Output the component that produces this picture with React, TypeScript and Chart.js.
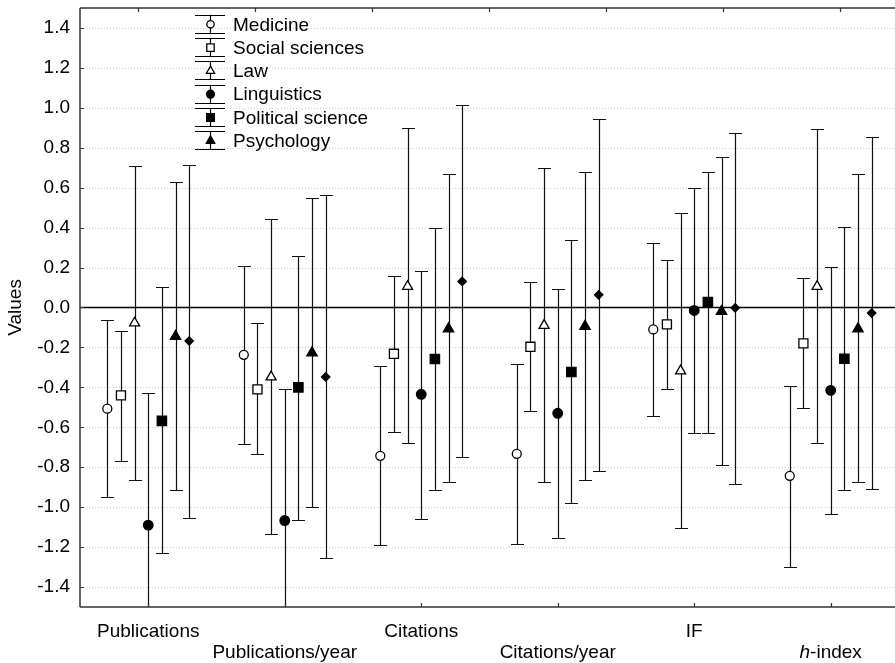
import React, { useEffect, useRef } from 'react';
import { Chart, registerables } from 'chart.js';

Chart.register(...registerables);

// ---------- data ----------
const categories = ['Publications', 'Publications/year', 'Citations', 'Citations/year', 'IF', 'h-index'];
const yTickValues = [-1.4, -1.2, -1.0, -0.8, -0.6, -0.4, -0.2, 0.0, 0.2, 0.4, 0.6, 0.8, 1.0, 1.2, 1.4];
const seriesNames = ['Medicine', 'Social sciences', 'Law', 'Linguistics', 'Political science', 'Psychology', 'Other'];

const medicineMean = [-0.507, -0.237, -0.743, -0.733, -0.11, -0.843];
const medicineLow = [-0.948, -0.685, -1.19, -1.183, -0.545, -1.298];
const medicineHigh = [-0.065, 0.207, -0.293, -0.283, 0.323, -0.393];

const socialMean = [-0.44, -0.41, -0.232, -0.197, -0.085, -0.18];
const socialLow = [-0.77, -0.735, -0.623, -0.518, -0.41, -0.502];
const socialHigh = [-0.118, -0.078, 0.157, 0.127, 0.237, 0.147];

const lawMean = [-0.078, -0.348, 0.105, -0.09, -0.318, 0.105];
const lawLow = [-0.862, -1.135, -0.678, -0.873, -1.105, -0.678];
const lawHigh = [0.71, 0.443, 0.897, 0.70, 0.475, 0.895];

const linguisticsMean = [-1.09, -1.067, -0.435, -0.53, -0.015, -0.415];
const linguisticsLow = [-1.75, -1.724, -1.057, -1.153, -0.63, -1.032];
const linguisticsHigh = [-0.43, -0.41, 0.185, 0.093, 0.598, 0.205];

const politicalMean = [-0.568, -0.40, -0.258, -0.323, 0.027, -0.257];
const politicalLow = [-1.23, -1.062, -0.915, -0.978, -0.63, -0.912];
const politicalHigh = [0.10, 0.26, 0.398, 0.338, 0.678, 0.402];

const psychologyMean = [-0.145, -0.227, -0.107, -0.095, -0.02, -0.107];
const psychologyLow = [-0.915, -0.998, -0.873, -0.865, -0.788, -0.875];
const psychologyHigh = [0.63, 0.548, 0.668, 0.68, 0.755, 0.67];

const otherMean = [-0.168, -0.348, 0.13, 0.063, -0.002, -0.028];
const otherLow = [-1.053, -1.255, -0.748, -0.82, -0.885, -0.908];
const otherHigh = [0.715, 0.565, 1.013, 0.945, 0.875, 0.855];

const means = [medicineMean, socialMean, lawMean, linguisticsMean, politicalMean, psychologyMean, otherMean];
const lows = [medicineLow, socialLow, lawLow, linguisticsLow, politicalLow, psychologyLow, otherLow];
const highs = [medicineHigh, socialHigh, lawHigh, linguisticsHigh, politicalHigh, psychologyHigh, otherHigh];

// ---------- styles ----------
const FONT = '"Liberation Sans", Arial, Helvetica, sans-serif';
const GROUP_STEP = 0.1;
const legendCount = 6;
const markerStyles = [
  { style: 'circle', fill: '#ffffff', radius: 4.5 },
  { style: 'rect', fill: '#ffffff', radius: 6.4 },
  { style: 'triangle', fill: '#ffffff', radius: 5.8 },
  { style: 'circle', fill: '#000000', radius: 4.8 },
  { style: 'rect', fill: '#000000', radius: 6.6 },
  { style: 'triangle', fill: '#000000', radius: 6.0 },
  { style: 'rectRot', fill: '#000000', radius: 4.2 },
];

function xPos(seriesIdx: number, catIdx: number) {
  return catIdx + (seriesIdx - 3) * GROUP_STEP;
}

function drawMarker(ctx: CanvasRenderingContext2D, style: string, fill: string, r: number, x: number, y: number) {
  ctx.save();
  ctx.beginPath();
  if (style === 'circle') {
    ctx.arc(x, y, r, 0, Math.PI * 2);
  } else if (style === 'rect') {
    const s = Math.SQRT1_2 * r;
    ctx.rect(x - s, y - s, 2 * s, 2 * s);
  } else if (style === 'triangle') {
    let rad = 0;
    ctx.moveTo(x + Math.sin(rad) * r, y - Math.cos(rad) * r);
    rad += (2 * Math.PI) / 3;
    ctx.lineTo(x + Math.sin(rad) * r, y - Math.cos(rad) * r);
    rad += (2 * Math.PI) / 3;
    ctx.lineTo(x + Math.sin(rad) * r, y - Math.cos(rad) * r);
    ctx.closePath();
  } else {
    ctx.moveTo(x - r, y);
    ctx.lineTo(x, y - r);
    ctx.lineTo(x + r, y);
    ctx.lineTo(x, y + r);
    ctx.closePath();
  }
  ctx.fillStyle = fill;
  ctx.fill();
  ctx.strokeStyle = '#000';
  ctx.lineWidth = 1.3;
  ctx.stroke();
  ctx.restore();
}

const customPlugin = {
  id: 'customDraw',
  afterLayout(chart: any) {
    // let the plot run to the right edge of the canvas, as in the reference
    const x = chart.scales.x;
    x.right = chart.width;
    x.width = x.right - x.left;
    x.configure();
    chart.chartArea.right = chart.width;
    chart.chartArea.width = chart.chartArea.right - chart.chartArea.left;
  },
  beforeDatasetsDraw(chart: any) {
    const { ctx, chartArea: a, scales } = chart;
    const x = scales.x;
    const y = scales.y;
    ctx.save();
    // dotted grid
    ctx.strokeStyle = '#cfcfcf';
    ctx.lineWidth = 1;
    ctx.setLineDash([1, 2]);
    yTickValues.forEach((v) => {
      if (Math.abs(v) < 1e-9) return;
      const py = Math.round(y.getPixelForValue(v)) + 0.5;
      ctx.beginPath();
      ctx.moveTo(a.left, py);
      ctx.lineTo(a.right, py);
      ctx.stroke();
    });
    ctx.setLineDash([]);
    // zero line
    const pz = Math.round(y.getPixelForValue(0)) + 0.5;
    ctx.strokeStyle = '#000';
    ctx.lineWidth = 1.3;
    ctx.beginPath();
    ctx.moveTo(a.left, pz);
    ctx.lineTo(a.right, pz);
    ctx.stroke();
    // error bars
    ctx.beginPath();
    ctx.rect(a.left, a.top, a.right - a.left, a.bottom - a.top);
    ctx.clip();
    ctx.strokeStyle = '#111';
    ctx.lineWidth = 1.2;
    const cap = 6.5;
    means.forEach((_m, i) => {
      categories.forEach((_c, j) => {
        const px = Math.round(x.getPixelForValue(xPos(i, j))) + 0.5;
        const pl = Math.round(y.getPixelForValue(lows[i][j])) + 0.5;
        const ph = Math.round(y.getPixelForValue(highs[i][j])) + 0.5;
        ctx.beginPath();
        ctx.moveTo(px, pl);
        ctx.lineTo(px, ph);
        ctx.moveTo(px - cap, pl);
        ctx.lineTo(px + cap, pl);
        ctx.moveTo(px - cap, ph);
        ctx.lineTo(px + cap, ph);
        ctx.stroke();
      });
    });
    ctx.restore();
  },
  afterDatasetsDraw(chart: any) {
    const { ctx, chartArea: a, scales } = chart;
    const x = scales.x;
    const y = scales.y;
    ctx.save();
    ctx.strokeStyle = '#333';
    ctx.lineWidth = 1.5;
    // axis frame (left, bottom, top)
    ctx.beginPath();
    ctx.moveTo(a.left, a.top);
    ctx.lineTo(a.left, a.bottom);
    ctx.moveTo(a.left, a.bottom);
    ctx.lineTo(a.right, a.bottom);
    ctx.moveTo(a.left, a.top);
    ctx.lineTo(a.right, a.top);
    ctx.stroke();
    // ticks
    ctx.lineWidth = 1.2;
    ctx.beginPath();
    categories.forEach((_c, j) => {
      const px = Math.round(x.getPixelForValue(j)) + 0.5;
      ctx.moveTo(px, a.bottom);
      ctx.lineTo(px, a.bottom - 4);
    });
    const topCount = categories.length + 1;
    for (let k = 0; k < topCount; k++) {
      const v = -0.5 + ((k + 0.5) * categories.length) / topCount;
      const px = Math.round(x.getPixelForValue(v)) + 0.5;
      ctx.moveTo(px, a.top);
      ctx.lineTo(px, a.top + 4);
    }
    yTickValues.forEach((v) => {
      const py = Math.round(y.getPixelForValue(v)) + 0.5;
      ctx.moveTo(a.left, py);
      ctx.lineTo(a.left + 4, py);
    });
    ctx.stroke();

    // category labels (two staggered rows)
    ctx.fillStyle = '#000';
    ctx.textBaseline = 'alphabetic';
    categories.forEach((c, j) => {
      const px = x.getPixelForValue(j);
      const py = j % 2 === 0 ? a.bottom + 30 : a.bottom + 51;
      if (c.startsWith('h-')) {
        ctx.font = `italic 19px ${FONT}`;
        const w1 = ctx.measureText('h').width;
        ctx.font = `19px ${FONT}`;
        const rest = c.slice(1);
        const w2 = ctx.measureText(rest).width;
        const start = px - (w1 + w2) / 2;
        ctx.textAlign = 'left';
        ctx.font = `italic 19px ${FONT}`;
        ctx.fillText('h', start, py);
        ctx.font = `19px ${FONT}`;
        ctx.fillText(rest, start + w1, py);
      } else {
        ctx.font = `19px ${FONT}`;
        ctx.textAlign = 'center';
        ctx.fillText(c, px, py);
      }
    });

    // legend
    const lx = 210;
    const ly0 = 24.3;
    const pitch = 23.3;
    ctx.font = `19px ${FONT}`;
    ctx.textAlign = 'left';
    ctx.textBaseline = 'middle';
    for (let i = 0; i < legendCount; i++) {
      const ly = ly0 + i * pitch;
      ctx.strokeStyle = '#000';
      ctx.lineWidth = 1.2;
      ctx.beginPath();
      ctx.moveTo(lx - 15, Math.round(ly - 9.5) + 0.5);
      ctx.lineTo(lx + 15, Math.round(ly - 9.5) + 0.5);
      ctx.moveTo(lx - 15, Math.round(ly + 8.5) + 0.5);
      ctx.lineTo(lx + 15, Math.round(ly + 8.5) + 0.5);
      ctx.moveTo(lx + 0.5, ly - 9.5);
      ctx.lineTo(lx + 0.5, ly + 8.5);
      ctx.stroke();
      const m = markerStyles[i];
      drawMarker(ctx, m.style, m.fill, m.radius * 0.82, lx + 0.5, ly);
      ctx.fillStyle = '#000';
      ctx.fillText(seriesNames[i], 233, ly + 1);
    }
    ctx.restore();
  },
};

export default function App() {
  const canvasRef = useRef<HTMLCanvasElement | null>(null);

  useEffect(() => {
    document.body.style.margin = '0';
    const canvas = canvasRef.current;
    if (!canvas) return;
    const datasets = means.map((m, i) => ({
      label: seriesNames[i],
      data: m.map((v, j) => ({ x: xPos(i, j), y: v })),
      pointStyle: markerStyles[i].style as any,
      pointRadius: markerStyles[i].radius,
      pointBackgroundColor: markerStyles[i].fill,
      pointBorderColor: '#000',
      pointBorderWidth: 1.3,
      showLine: false,
    }));
    const chart = new Chart(canvas, {
      type: 'scatter',
      data: { datasets },
      plugins: [customPlugin],
      options: {
        animation: false,
        responsive: false,
        devicePixelRatio: 1,
        layout: { padding: { top: 7, left: 0, right: 0, bottom: 0 } },
        plugins: { legend: { display: false }, tooltip: { enabled: false } },
        scales: {
          x: {
            type: 'linear',
            min: -0.5,
            max: 5.471,
            ticks: { display: false },
            grid: { display: false },
            border: { display: false },
            afterFit: (s: any) => {
              s.height = 56;
              s.paddingLeft = 0;
              s.paddingRight = 0;
            },
          },
          y: {
            type: 'linear',
            min: -1.5,
            max: 1.5,
            afterBuildTicks: (s: any) => {
              s.ticks = yTickValues.map((v) => ({ value: v }));
            },
            ticks: {
              color: '#000',
              font: { family: FONT, size: 19 },
              padding: 10,
              callback: (v: any) => Number(v).toFixed(1),
            },
            grid: { display: false, drawTicks: false },
            border: { display: false },
            title: {
              display: true,
              text: 'Values',
              color: '#000',
              font: { family: FONT, size: 19 },
              padding: { top: 4, bottom: 0 },
            },
            afterFit: (s: any) => {
              s.width = 80;
              s.paddingTop = 0;
              s.paddingBottom = 0;
            },
          },
        },
      },
    });
    return () => chart.destroy();
  }, []);

  return (
    <canvas
      ref={canvasRef}
      width={895}
      height={663}
      style={{ display: 'block', width: 895, height: 663 }}
    />
  );
}
